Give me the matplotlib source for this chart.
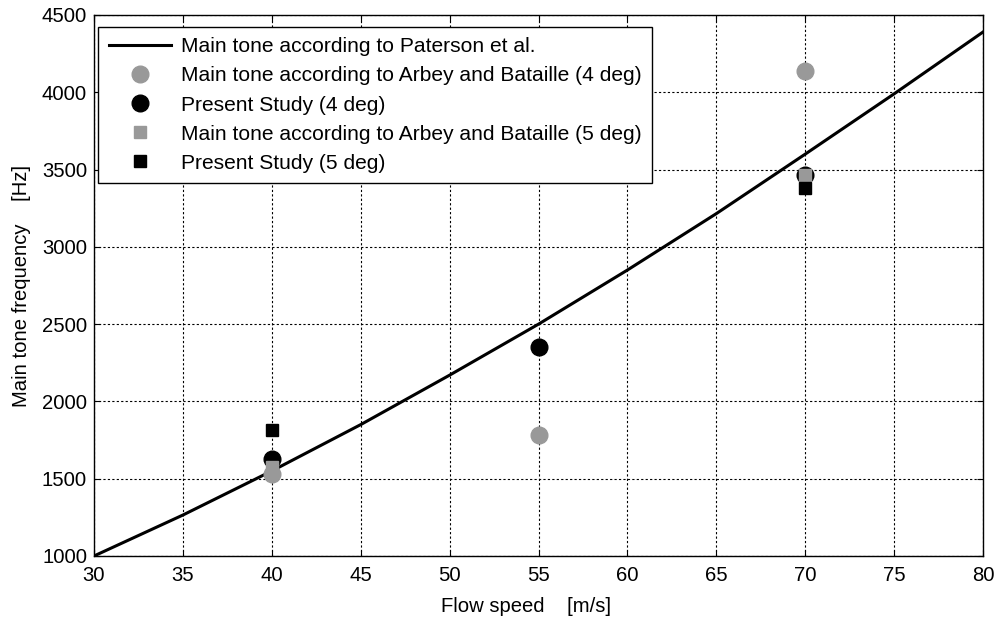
import matplotlib
matplotlib.use('Agg')
import matplotlib.pyplot as plt

# Paterson et al. curve
speed_line = [30, 35, 40, 45, 50, 55, 60, 65, 70, 75, 80]
freq_line = [1000, 1265, 1550, 1850, 2170, 2500, 2850, 3215, 3600, 3990, 4390]

# measured / predicted main tone points
speed_pts = [40, 55, 70]
arbey_4deg = [1528, 1780, 4140]
present_4deg = [1628, 2352, 3468]

speed_5deg = [40, 70]
arbey_5deg = [1575, 3462]
present_5deg = [1815, 3378]

plt.rcParams['font.family'] = ['Liberation Sans', 'DejaVu Sans']
fs = 14.6

fig = plt.figure(figsize=(9.96, 6.17), dpi=100)
ax = fig.add_axes([0.0944, 0.0989, 0.8926, 0.8768])

gray = '#999999'
ax.plot(speed_line, freq_line, color='black', lw=2.2, zorder=2,
        label='Main tone according to Paterson et al.')
ax.plot(speed_pts, arbey_4deg, 'o', color=gray, ms=12, zorder=4,
        label='Main tone according to Arbey and Bataille (4 deg)')
ax.plot(speed_pts, present_4deg, 'o', color='black', ms=12, zorder=3,
        label='Present Study (4 deg)')
ax.plot(speed_5deg, arbey_5deg, 's', color=gray, ms=9, zorder=5,
        label='Main tone according to Arbey and Bataille (5 deg)')
ax.plot(speed_5deg, present_5deg, 's', color='black', ms=9, zorder=6,
        label='Present Study (5 deg)')

ax.set_xlim(30, 80)
ax.set_ylim(1000, 4500)
ax.set_xticks(range(30, 81, 5))
ax.set_yticks(range(1000, 4501, 500))
ax.grid(True, color='black', linestyle=(0, (2, 2)), linewidth=0.8)
ax.tick_params(direction='in', top=True, right=True, labelsize=fs, length=4)
ax.tick_params(axis='x', pad=7)
ax.tick_params(axis='y', pad=5)
for s in ax.spines.values():
    s.set_linewidth(1.0)

ax.set_xlabel('Flow speed    [m/s]', fontsize=fs)
ax.xaxis.set_label_coords(0.486, -0.075)
ax.set_ylabel('Main tone frequency    [Hz]', fontsize=fs, labelpad=8)

leg = ax.legend(loc='upper left', bbox_to_anchor=(0.0045, 0.978), fontsize=15.1,
                fancybox=False, framealpha=1, edgecolor='black',
                handlelength=3.0, handletextpad=0.45, borderpad=0.5,
                labelspacing=0.48, borderaxespad=0)
leg.get_frame().set_linewidth(1.0)

fig.savefig('out.png', dpi=100)
